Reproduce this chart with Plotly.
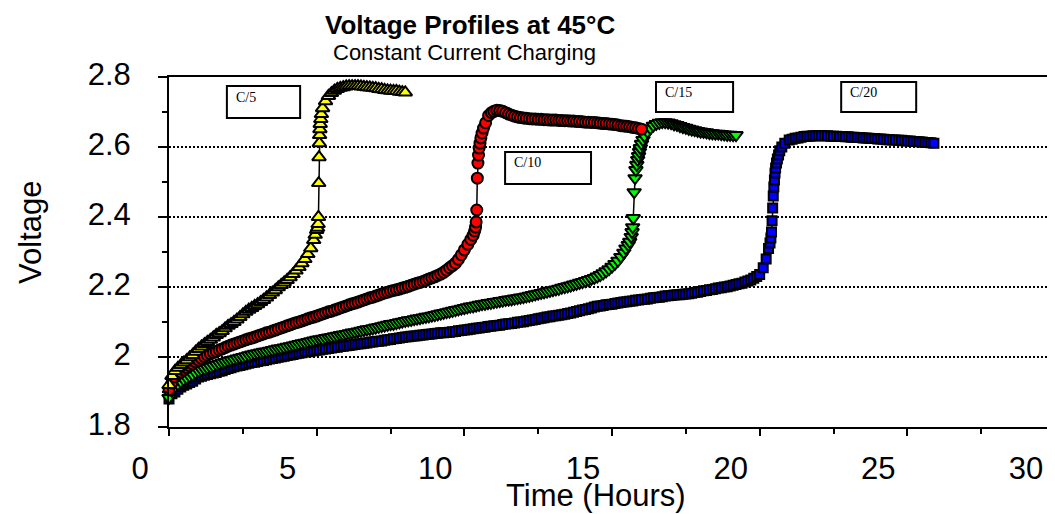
import plotly.graph_objects as go

# C/5 charge (yellow triangles)
c5_time = [0.0, 0.1, 0.2, 0.3, 0.4, 0.5, 0.6, 0.7, 0.8, 0.9,
           1.0, 1.1, 1.2, 1.3, 1.4, 1.5, 1.6, 1.7, 1.8, 1.9,
           2.0, 2.1, 2.2, 2.3, 2.4, 2.5, 2.6, 2.7, 2.8, 2.9,
           3.0, 3.1, 3.2, 3.3, 3.4, 3.5, 3.6, 3.7, 3.8, 3.9,
           4.0, 4.1, 4.2, 4.3, 4.4, 4.5, 4.6, 4.7, 4.8, 4.9,
           4.95, 5.0, 5.03, 5.05, 5.06, 5.07, 5.08, 5.09, 5.10, 5.11, 5.12, 5.14, 5.16,
           5.2, 5.3, 5.4, 5.5,
           5.6, 5.7, 5.8, 5.9, 6.0, 6.1, 6.2, 6.3, 6.4, 6.5,
           6.6, 6.7, 6.8, 6.9, 7.0, 7.1, 7.2, 7.3, 7.4, 7.5,
           7.6, 7.7, 7.8, 7.9, 8.0]
c5_volt = [1.920, 1.946, 1.960, 1.969, 1.977, 1.984, 1.991, 1.999, 2.006, 2.015,
           2.023, 2.030, 2.037, 2.043, 2.049, 2.056, 2.063, 2.068, 2.074, 2.082,
           2.089, 2.094, 2.100, 2.107, 2.114, 2.122, 2.129, 2.135, 2.140, 2.146,
           2.151, 2.157, 2.163, 2.170, 2.177, 2.184, 2.191, 2.199, 2.206, 2.213,
           2.220, 2.228, 2.237, 2.247, 2.257, 2.268, 2.280, 2.294, 2.311, 2.334,
           2.349, 2.363, 2.369, 2.380, 2.400, 2.497, 2.571, 2.611, 2.634, 2.651, 2.666, 2.680, 2.694,
           2.711, 2.731, 2.746, 2.754,
           2.761, 2.766, 2.769, 2.771, 2.773, 2.774, 2.774, 2.774, 2.774, 2.773,
           2.772, 2.771, 2.770, 2.769, 2.768, 2.766, 2.765, 2.763, 2.762, 2.761,
           2.760, 2.760, 2.758, 2.757, 2.756]

# C/10 charge (red ovals)
c10_time = [0.0, 0.1, 0.2, 0.3, 0.4, 0.5, 0.6, 0.7, 0.8, 0.9,
            1.0, 1.1, 1.2, 1.3, 1.4, 1.5, 1.6, 1.7, 1.8, 1.9,
            2.0, 2.1, 2.2, 2.3, 2.4, 2.5, 2.6, 2.7, 2.8, 2.9,
            3.0, 3.1, 3.2, 3.3, 3.4, 3.5, 3.6, 3.7, 3.8, 3.9,
            4.0, 4.1, 4.2, 4.3, 4.4, 4.5, 4.6, 4.7, 4.8, 4.9,
            5.0, 5.1, 5.2, 5.3, 5.4, 5.5, 5.6, 5.7, 5.8, 5.9,
            6.0, 6.1, 6.2, 6.3, 6.4, 6.5, 6.6, 6.7, 6.8, 6.9,
            7.0, 7.1, 7.2, 7.3, 7.4, 7.5, 7.6, 7.7, 7.8, 7.9,
            8.0, 8.1, 8.2, 8.3, 8.4, 8.5, 8.6, 8.7, 8.8, 8.9,
            9.0, 9.1, 9.2, 9.3, 9.4, 9.5, 9.6, 9.7, 9.8, 9.9,
            10.0, 10.12, 10.22, 10.3, 10.35, 10.38, 10.40, 10.42, 10.44, 10.46,
            10.48, 10.50, 10.53, 10.56, 10.6, 10.65, 10.72, 10.82, 10.92,
            11.0, 11.1, 11.2, 11.3, 11.4, 11.5, 11.6, 11.7, 11.8, 11.9,
            12.0, 12.1, 12.2, 12.3, 12.4, 12.5, 12.6, 12.7, 12.8, 12.9,
            13.0, 13.1, 13.2, 13.3, 13.4, 13.5, 13.6, 13.7, 13.8, 13.9,
            14.0, 14.1, 14.2, 14.3, 14.4, 14.5, 14.6, 14.7, 14.8, 14.9,
            15.0, 15.1, 15.2, 15.3, 15.4, 15.5, 15.6, 15.7, 15.8, 15.9,
            16.0]
c10_volt = [1.906, 1.926, 1.943, 1.951, 1.957, 1.963, 1.969, 1.975, 1.980, 1.986,
            1.991, 1.996, 2.001, 2.005, 2.009, 2.013, 2.016, 2.020, 2.023, 2.027,
            2.031, 2.034, 2.037, 2.040, 2.043, 2.046, 2.049, 2.052, 2.054, 2.057,
            2.060, 2.063, 2.066, 2.069, 2.071, 2.074, 2.077, 2.080, 2.083, 2.086,
            2.089, 2.092, 2.095, 2.098, 2.100, 2.103, 2.106, 2.109, 2.112, 2.114,
            2.117, 2.120, 2.123, 2.126, 2.129, 2.131, 2.134, 2.137, 2.140, 2.143,
            2.146, 2.149, 2.152, 2.154, 2.157, 2.160, 2.163, 2.166, 2.169, 2.171,
            2.174, 2.177, 2.180, 2.183, 2.185, 2.188, 2.190, 2.192, 2.194, 2.197,
            2.199, 2.202, 2.205, 2.208, 2.211, 2.213, 2.216, 2.219, 2.223, 2.226,
            2.229, 2.233, 2.237, 2.242, 2.248, 2.255, 2.261, 2.268, 2.279, 2.292,
            2.306, 2.322, 2.336, 2.348, 2.360, 2.371, 2.386, 2.420, 2.511, 2.554,
            2.577, 2.597, 2.611, 2.626, 2.640, 2.654, 2.669, 2.690, 2.698,
            2.702, 2.705, 2.704, 2.702, 2.698, 2.694, 2.691, 2.688, 2.686, 2.684,
            2.683, 2.682, 2.681, 2.680, 2.680, 2.679, 2.679, 2.678, 2.678, 2.677,
            2.677, 2.677, 2.676, 2.676, 2.675, 2.675, 2.674, 2.674, 2.673, 2.673,
            2.672, 2.671, 2.671, 2.670, 2.670, 2.669, 2.668, 2.667, 2.667, 2.666,
            2.665, 2.664, 2.663, 2.661, 2.660, 2.659, 2.658, 2.656, 2.655, 2.653,
            2.651]

# C/15 charge (green triangles)
c15_time = [0.0, 0.1, 0.2, 0.3, 0.4, 0.5, 0.6, 0.7, 0.8, 0.9,
            1.0, 1.1, 1.2, 1.3, 1.4, 1.5, 1.6, 1.7, 1.8, 1.9,
            2.0, 2.1, 2.2, 2.3, 2.4, 2.5, 2.6, 2.7, 2.8, 2.9,
            3.0, 3.1, 3.2, 3.3, 3.4, 3.5, 3.6, 3.7, 3.8, 3.9,
            4.0, 4.1, 4.2, 4.3, 4.4, 4.5, 4.6, 4.7, 4.8, 4.9,
            5.0, 5.1, 5.2, 5.3, 5.4, 5.5, 5.6, 5.7, 5.8, 5.9,
            6.0, 6.1, 6.2, 6.3, 6.4, 6.5, 6.6, 6.7, 6.8, 6.9,
            7.0, 7.1, 7.2, 7.3, 7.4, 7.5, 7.6, 7.7, 7.8, 7.9,
            8.0, 8.1, 8.2, 8.3, 8.4, 8.5, 8.6, 8.7, 8.8, 8.9,
            9.0, 9.1, 9.2, 9.3, 9.4, 9.5, 9.6, 9.7, 9.8, 9.9,
            10.0, 10.1, 10.2, 10.3, 10.4, 10.5, 10.6, 10.7, 10.8, 10.9,
            11.0, 11.1, 11.2, 11.3, 11.4, 11.5, 11.6, 11.7, 11.8, 11.9,
            12.0, 12.1, 12.2, 12.3, 12.4, 12.5, 12.6, 12.7, 12.8, 12.9,
            13.0, 13.1, 13.2, 13.3, 13.4, 13.5, 13.6, 13.7, 13.8, 13.9,
            14.0, 14.1, 14.2, 14.3, 14.4, 14.5, 14.6, 14.7, 14.8, 14.9,
            15.0, 15.1, 15.2, 15.3, 15.4, 15.47, 15.55, 15.6, 15.65, 15.68,
            15.7, 15.72, 15.75, 15.78, 15.81, 15.84, 15.87, 15.9, 15.93, 15.96,
            16.0, 16.05, 16.1, 16.2, 16.3, 16.4, 16.5, 16.6, 16.7, 16.8,
            16.9, 17.0, 17.1, 17.2, 17.3, 17.4, 17.5, 17.6, 17.7, 17.8,
            17.9, 18.0, 18.1, 18.2, 18.3, 18.4, 18.5, 18.6, 18.7, 18.8,
            18.9, 19.0, 19.1, 19.2]
c15_volt = [1.883, 1.903, 1.914, 1.922, 1.929, 1.935, 1.940, 1.945, 1.949, 1.955,
            1.960, 1.963, 1.966, 1.969, 1.972, 1.975, 1.978, 1.981, 1.984, 1.986,
            1.989, 1.991, 1.993, 1.996, 1.998, 2.000, 2.002, 2.005, 2.007, 2.009,
            2.011, 2.013, 2.015, 2.016, 2.018, 2.020, 2.022, 2.024, 2.025, 2.027,
            2.029, 2.031, 2.033, 2.035, 2.037, 2.039, 2.041, 2.043, 2.045, 2.047,
            2.049, 2.051, 2.052, 2.054, 2.056, 2.057, 2.059, 2.061, 2.063, 2.064,
            2.066, 2.068, 2.070, 2.071, 2.073, 2.075, 2.077, 2.079, 2.080, 2.082,
            2.084, 2.086, 2.088, 2.090, 2.092, 2.094, 2.095, 2.097, 2.099, 2.101,
            2.103, 2.105, 2.106, 2.108, 2.110, 2.111, 2.113, 2.115, 2.116, 2.118,
            2.120, 2.122, 2.124, 2.126, 2.128, 2.130, 2.132, 2.134, 2.136, 2.138,
            2.140, 2.142, 2.144, 2.145, 2.147, 2.149, 2.151, 2.152, 2.154, 2.155,
            2.157, 2.158, 2.160, 2.161, 2.163, 2.164, 2.165, 2.167, 2.168, 2.170,
            2.171, 2.173, 2.175, 2.177, 2.179, 2.181, 2.183, 2.185, 2.187, 2.189,
            2.191, 2.193, 2.195, 2.198, 2.200, 2.202, 2.204, 2.207, 2.209, 2.212,
            2.214, 2.217, 2.220, 2.223, 2.226, 2.230, 2.234, 2.239, 2.245, 2.251,
            2.258, 2.266, 2.275, 2.286, 2.298, 2.310, 2.320, 2.329, 2.343, 2.357,
            2.371, 2.397, 2.471, 2.511, 2.534, 2.549, 2.563, 2.574, 2.586, 2.597,
            2.609, 2.620, 2.631, 2.643, 2.653, 2.661, 2.666, 2.669, 2.671, 2.671,
            2.670, 2.668, 2.665, 2.663, 2.660, 2.657, 2.655, 2.652, 2.650, 2.648,
            2.646, 2.644, 2.643, 2.642, 2.640, 2.639, 2.638, 2.638, 2.637, 2.636,
            2.635, 2.635, 2.634, 2.634]

# C/20 charge (blue rectangles)
c20_time = [0.0, 0.1, 0.2, 0.3, 0.4, 0.5, 0.6, 0.7, 0.8, 0.9,
            1.0, 1.1, 1.2, 1.3, 1.4, 1.5, 1.6, 1.7, 1.8, 1.9,
            2.0, 2.1, 2.2, 2.3, 2.4, 2.5, 2.6, 2.7, 2.8, 2.9,
            3.0, 3.1, 3.2, 3.3, 3.4, 3.5, 3.6, 3.7, 3.8, 3.9,
            4.0, 4.1, 4.2, 4.3, 4.4, 4.5, 4.6, 4.7, 4.8, 4.9,
            5.0, 5.1, 5.2, 5.3, 5.4, 5.5, 5.6, 5.7, 5.8, 5.9,
            6.0, 6.1, 6.2, 6.3, 6.4, 6.5, 6.6, 6.7, 6.8, 6.9,
            7.0, 7.1, 7.2, 7.3, 7.4, 7.5, 7.6, 7.7, 7.8, 7.9,
            8.0, 8.1, 8.2, 8.3, 8.4, 8.5, 8.6, 8.7, 8.8, 8.9,
            9.0, 9.1, 9.2, 9.3, 9.4, 9.5, 9.6, 9.7, 9.8, 9.9,
            10.0, 10.1, 10.2, 10.3, 10.4, 10.5, 10.6, 10.7, 10.8, 10.9,
            11.0, 11.1, 11.2, 11.3, 11.4, 11.5, 11.6, 11.7, 11.8, 11.9,
            12.0, 12.1, 12.2, 12.3, 12.4, 12.5, 12.6, 12.7, 12.8, 12.9,
            13.0, 13.1, 13.2, 13.3, 13.4, 13.5, 13.6, 13.7, 13.8, 13.9,
            14.0, 14.1, 14.2, 14.3, 14.4, 14.5, 14.6, 14.7, 14.8, 14.9,
            15.0, 15.1, 15.2, 15.3, 15.4, 15.5, 15.6, 15.7, 15.8, 15.9,
            16.0, 16.1, 16.2, 16.3, 16.4, 16.5, 16.6, 16.7, 16.8, 16.9,
            17.0, 17.1, 17.2, 17.3, 17.4, 17.5, 17.6, 17.7, 17.8, 17.9,
            18.0, 18.1, 18.2, 18.3, 18.4, 18.5, 18.6, 18.7, 18.8, 18.9,
            19.0, 19.1, 19.2, 19.3, 19.4, 19.5, 19.6, 19.7, 19.8, 19.9,
            20.0, 20.12, 20.22, 20.3, 20.35, 20.38, 20.40, 20.42, 20.44, 20.46,
            20.48, 20.50, 20.52, 20.54, 20.57, 20.60, 20.64, 20.68, 20.75, 20.85,
            21.0, 21.1, 21.2, 21.3, 21.4, 21.5, 21.6, 21.7, 21.8, 21.9,
            22.0, 22.1, 22.2, 22.3, 22.4, 22.5, 22.6, 22.7, 22.8, 22.9,
            23.0, 23.1, 23.2, 23.3, 23.4, 23.5, 23.6, 23.7, 23.8, 23.9,
            24.0, 24.1, 24.2, 24.3, 24.4, 24.5, 24.6, 24.7, 24.8, 24.9,
            25.0, 25.1, 25.2, 25.3, 25.4, 25.5, 25.6, 25.7, 25.8, 25.9]
c20_volt = [1.880, 1.895, 1.900, 1.908, 1.914, 1.919, 1.923, 1.927, 1.931, 1.937,
            1.943, 1.945, 1.948, 1.950, 1.952, 1.954, 1.956, 1.959, 1.961, 1.964,
            1.967, 1.969, 1.972, 1.974, 1.976, 1.978, 1.980, 1.982, 1.984, 1.985,
            1.987, 1.989, 1.990, 1.992, 1.994, 1.996, 1.997, 1.999, 2.001, 2.002,
            2.004, 2.006, 2.007, 2.009, 2.011, 2.012, 2.014, 2.015, 2.017, 2.018,
            2.019, 2.020, 2.022, 2.023, 2.024, 2.026, 2.027, 2.028, 2.030, 2.031,
            2.032, 2.033, 2.034, 2.036, 2.037, 2.038, 2.039, 2.040, 2.042, 2.043,
            2.044, 2.045, 2.046, 2.048, 2.049, 2.050, 2.052, 2.053, 2.054, 2.056,
            2.057, 2.058, 2.059, 2.060, 2.061, 2.062, 2.063, 2.064, 2.065, 2.066,
            2.067, 2.068, 2.069, 2.069, 2.070, 2.071, 2.072, 2.073, 2.075, 2.076,
            2.077, 2.078, 2.079, 2.081, 2.082, 2.083, 2.084, 2.085, 2.087, 2.088,
            2.089, 2.090, 2.091, 2.093, 2.094, 2.095, 2.096, 2.097, 2.099, 2.100,
            2.101, 2.103, 2.104, 2.106, 2.107, 2.109, 2.111, 2.112, 2.114, 2.115,
            2.117, 2.118, 2.119, 2.121, 2.122, 2.124, 2.126, 2.128, 2.130, 2.132,
            2.134, 2.136, 2.138, 2.140, 2.143, 2.145, 2.146, 2.147, 2.149, 2.150,
            2.151, 2.153, 2.154, 2.156, 2.157, 2.158, 2.159, 2.160, 2.162, 2.163,
            2.164, 2.165, 2.166, 2.168, 2.169, 2.170, 2.171, 2.172, 2.174, 2.175,
            2.176, 2.177, 2.178, 2.178, 2.179, 2.180, 2.181, 2.182, 2.184, 2.185,
            2.187, 2.189, 2.190, 2.192, 2.193, 2.195, 2.197, 2.198, 2.200, 2.201,
            2.203, 2.205, 2.207, 2.209, 2.211, 2.214, 2.217, 2.220, 2.225, 2.230,
            2.236, 2.255, 2.280, 2.310, 2.326, 2.340, 2.357, 2.389, 2.426, 2.460,
            2.486, 2.506, 2.526, 2.540, 2.554, 2.566, 2.577, 2.589, 2.600, 2.611,
            2.620, 2.622, 2.625, 2.626, 2.628, 2.630, 2.631, 2.631, 2.632, 2.632,
            2.632, 2.632, 2.632, 2.632, 2.631, 2.631, 2.631, 2.630, 2.630, 2.629,
            2.629, 2.628, 2.628, 2.627, 2.627, 2.626, 2.626, 2.625, 2.624, 2.624,
            2.623, 2.623, 2.622, 2.621, 2.621, 2.620, 2.620, 2.619, 2.619, 2.618,
            2.617, 2.617, 2.616, 2.616, 2.615, 2.614, 2.613, 2.613, 2.612, 2.611]

# axis ticks
x_tick_vals = [0, 5, 10, 15, 20, 25, 30]
x_tick_text = ["0", "5", "10", "15", "20", "25", "30"]
x_minor_vals = [2.5, 7.5, 12.5, 17.5, 22.5, 27.5]
y_tick_vals = [1.8, 2.0, 2.2, 2.4, 2.6, 2.8]
y_tick_text = ["1.8", "2", "2.2", "2.4", "2.6", "2.8"]
y_minor_vals = [1.9, 2.1, 2.3, 2.5, 2.7]

# rate labels: (text, left time, right time, bottom volt, top volt)
rate_boxes = [
    ("C/5", 1.96, 4.44, 2.683, 2.774),
    ("C/10", 11.38, 14.29, 2.494, 2.586),
    ("C/15", 16.49, 19.10, 2.700, 2.786),
    ("C/20", 22.76, 25.30, 2.700, 2.786),
]

series = [
    (c20_time, c20_volt, "C/20", "square", 9, "#0000ff"),
    (c15_time, c15_volt, "C/15", "triangle-down", 12, "#00ff00"),
    (c10_time, c10_volt, "C/10", "circle", 11, "#ff0000"),
    (c5_time, c5_volt, "C/5", "triangle-up", 12, "#ffff00"),
]

fig = go.Figure()
for t, v, name, sym, size, col in series:
    fig.add_trace(go.Scatter(
        x=t, y=v, name=name, mode="lines+markers",
        line=dict(color="black", width=1.5),
        marker=dict(symbol=sym, size=size, color=col, line=dict(color="black", width=2)),
        cliponaxis=False,
    ))

for text, x0, x1, y0, y1 in rate_boxes:
    fig.add_shape(type="rect", xref="x", yref="y", x0=x0, x1=x1, y0=y0, y1=y1,
                  line=dict(color="black", width=2), fillcolor="white", layer="below")
    fig.add_annotation(x=x0, y=y1, xref="x", yref="y", text=text, showarrow=False,
                       xanchor="left", yanchor="middle", xshift=7, yshift=-11,
                       font=dict(family="Liberation Serif, Times New Roman", size=14, color="black"))

axis_font = dict(family="Liberation Sans, Arial", size=31, color="black")

# the page adds an 8px body margin, so the figure is 8px smaller
fig.update_layout(
    width=1047, height=506,
    margin=dict(l=161, r=0, t=69, b=87),
    paper_bgcolor="white", plot_bgcolor="white",
    showlegend=False,
    font=dict(family="Liberation Sans, Arial", color="black"),
    xaxis=dict(
        range=[0, 30], tickmode="array", tickvals=x_tick_vals, ticktext=x_tick_text,
        ticks="outside", ticklen=7, tickwidth=2, tickcolor="black",
        minor=dict(tickmode="array", tickvals=x_minor_vals, ticks="outside", ticklen=5,
                   tickwidth=2, tickcolor="black"),
        showline=True, linecolor="black", linewidth=2, mirror=True,
        showgrid=False, zeroline=False, tickfont=axis_font, automargin=False,
        ticklabelshift=-29, ticklabelstandoff=6,
    ),
    yaxis=dict(
        range=[1.8, 2.8], tickmode="array", tickvals=y_tick_vals, ticktext=y_tick_text,
        ticks="outside", ticklen=9, tickwidth=2, tickcolor="black",
        minor=dict(tickmode="array", tickvals=y_minor_vals, ticks="outside", ticklen=5,
                   tickwidth=2, tickcolor="black"),
        showline=True, linecolor="black", linewidth=2,
        showgrid=True, gridcolor="black", gridwidth=1.5, griddash="1.5px,2.5px",
        zeroline=False, tickfont=axis_font, automargin=False,
        ticklabelstandoff=21, ticklabelshift=-3,
    ),
    xaxis2=dict(
        overlaying="x", anchor="y", side="bottom", range=[0, 30], automargin=False,
        tickmode="array", tickvals=x_tick_vals, ticks="inside", ticklen=6, tickwidth=2,
        tickcolor="black", showticklabels=False, showline=False, showgrid=False, zeroline=False,
        minor=dict(tickmode="array", tickvals=x_minor_vals, ticks="inside", ticklen=4,
                   tickwidth=2, tickcolor="black"),
    ),
    yaxis2=dict(
        overlaying="y", anchor="x", side="left", range=[1.8, 2.8], automargin=False,
        tickmode="array", tickvals=y_tick_vals, ticks="inside", ticklen=9, tickwidth=2,
        tickcolor="black", showticklabels=False, showline=False, showgrid=False, zeroline=False,
        minor=dict(tickmode="array", tickvals=y_minor_vals, ticks="inside", ticklen=4,
                   tickwidth=2, tickcolor="black"),
    ),
    annotations=list(fig.layout.annotations) + [
        dict(text="<b>Voltage Profiles at 45°C</b>", xref="paper", yref="paper", x=0.340, y=1.149,
             xanchor="center", yanchor="middle", showarrow=False,
             font=dict(family="Liberation Sans, Arial", size=26, color="black")),
        dict(text="Constant Current Charging", xref="paper", yref="paper", x=0.334, y=1.071,
             xanchor="center", yanchor="middle", showarrow=False,
             font=dict(family="Liberation Sans, Arial", size=22, color="black")),
        dict(text="Time (Hours)", xref="paper", yref="paper", x=0.482, y=-0.195,
             xanchor="center", yanchor="middle", showarrow=False, font=axis_font),
        dict(text="Voltage", xref="paper", yref="paper", x=-0.157, y=0.557, textangle=-90,
             xanchor="center", yanchor="middle", showarrow=False, font=axis_font),
    ],
)

fig.write_html("out.html")
